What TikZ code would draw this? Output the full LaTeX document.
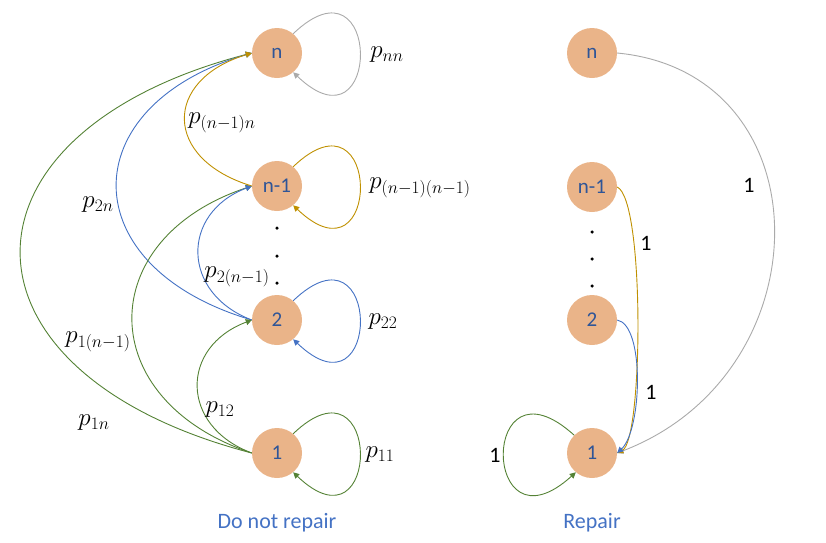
\RequirePackage{fix-cm}
\documentclass[tikz,border=0pt]{standalone}
\usepackage{fontspec}
\setmainfont{Carlito}
\usetikzlibrary{arrows.meta,calc}
\definecolor{nodefill}{RGB}{234,180,137}
\definecolor{nodetext}{RGB}{47,85,151}
\definecolor{lblue}{RGB}{68,114,196}
\definecolor{lgreen}{RGB}{84,130,53}
\definecolor{lgold}{RGB}{191,144,0}
\definecolor{lgray}{RGB}{170,170,170}
\tikzset{
  state/.style={circle,fill=nodefill,draw=none,minimum size=50pt,inner sep=0pt,
    text=nodetext,font=\fontsize{21}{24}\selectfont},
  edge/.style={line width=0.9pt,-{Triangle[length=6pt,width=6pt]}},
  plabel/.style={font=\fontsize{25}{28}\selectfont,inner sep=0pt},
  onelabel/.style={font=\fontsize{22}{24}\selectfont,inner sep=0pt},
  caption/.style={font=\fontsize{22}{24}\selectfont,text=lblue,inner sep=0pt},
  dotmark/.style={circle,fill=black,inner sep=0pt,minimum size=3.5pt}
}
\begin{document}
\begin{tikzpicture}[x=1pt,y=-1pt]
\useasboundingbox (0,0) rectangle (826,542);
% left column
\node[state] (Ln)  at (277,53)  {n};
\node[state] (Ln1) at (277,186) {n-1};
\node[state] (L2)  at (277,320) {2};
\node[state] (L1)  at (277,453) {1};
\node[dotmark] (Ld1) at (277,228) {};
\node[dotmark] (Ld2) at (277,256) {};
\node[dotmark] (Ld3) at (277,283) {};
% right column
\node[state] (Rn)  at (592,53)  {n};
\node[state] (Rn1) at (592,187) {n-1};
\node[state] (R2)  at (592,320) {2};
\node[state] (R1)  at (592,453) {1};
\node[dotmark] (Rd1) at (592,232) {};
\node[dotmark] (Rd2) at (592,259) {};
\node[dotmark] (Rd3) at (592,286) {};
% self loops left
\draw[edge,lgray]  (Ln.50)  .. controls +(89,-85) and +(89,85) .. (Ln.-50);
\draw[edge,lgold]  (Ln1.50) .. controls +(89,-85) and +(89,85) .. (Ln1.-50);
\draw[edge,lblue]  (L2.50)  .. controls +(89,-85) and +(89,85) .. (L2.-50);
\draw[edge,lgreen] (L1.50)  .. controls +(89,-85) and +(89,85) .. (L1.-50);
% arcs left
\draw[edge,lgreen] (L1.west)  .. controls +(-308,-80) and +(-308,80) .. (Ln.west);
\draw[edge,lblue]  (L2.west)  .. controls +(-180,-53) and +(-180,53) .. (Ln.west);
\draw[edge,lgreen] (L1.west)  .. controls +(-159,-53) and +(-159,53) .. (Ln1.west);
\draw[edge,lblue]  (L2.west)  .. controls +(-71,-27) and +(-71,27) .. (Ln1.west);
\draw[edge,lgreen] (L1.west)  .. controls +(-72,-27) and +(-72,27) .. (L2.west);
\draw[edge,lgold]  (Ln1.west) .. controls +(-89,-27) and +(-89,27) .. (Ln.west);
% right edges
\draw[edge,lgray]  (Rn.east) .. controls +(209,20) and +(209,-80) .. (R1.east);
\draw[edge,lgold]  (Rn1.east) .. controls (645,200) and (643,440) .. (R1.east);
\draw[edge,lblue]  (R2.east) .. controls (645,325) and (642,430) .. (R1.east);
\draw[edge,lgreen] (R1.135) .. controls +(-95,-86) and +(-95,86) .. (R1.-130);
% labels left
\node[plabel] (pnn)   at (387,55)  {$p_{nn}$};
\node[plabel] (pn1n)  at (222,123) {$p_{(n-1)n}$};
\node[plabel] (pn1n1) at (420,188) {$p_{(n-1)(n-1)}$};
\node[plabel] (p2n)   at (98,205)  {$p_{2n}$};
\node[plabel] (p2n1)  at (237,277) {$p_{2(n-1)}$};
\node[plabel] (p22)   at (383,322) {$p_{22}$};
\node[plabel] (p1n1)  at (98,342)  {$p_{1(n-1)}$};
\node[plabel] (p12)   at (220,410) {$p_{12}$};
\node[plabel] (p1n)   at (94,423)  {$p_{1n}$};
\node[plabel] (p11)   at (380,455) {$p_{11}$};
% labels right
\node[onelabel] (o1) at (749,185) {1};
\node[onelabel] (o2) at (646,243) {1};
\node[onelabel] (o3) at (651,392) {1};
\node[onelabel] (o4) at (495,455) {1};
% captions
\node[caption] (c1) at (277,523) {Do not repair};
\node[caption] (c2) at (592,523) {Repair};
\end{tikzpicture}
\end{document}
